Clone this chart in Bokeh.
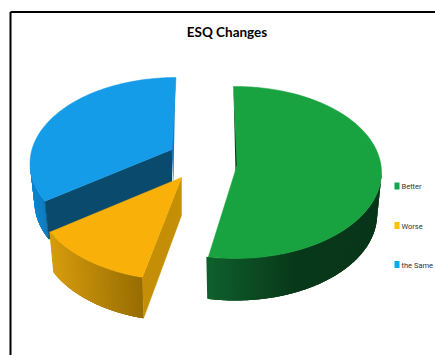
import numpy as np
from bokeh.plotting import figure
from bokeh.embed import file_html
from bokeh.resources import INLINE
from bokeh.core.properties import value

TITLE = "ESQ Changes"
categories = ["Better", "Worse", "the Same"]
shares = [53.2, 13.5, 33.3]

top_colors = ["#18a340", "#f9b009", "#159ce9"]
legend_colors = ["#0fa84e", "#ffc000", "#00aeef"]


def mix(a, b, t):
    ca = [int(a[i:i + 2], 16) for i in (1, 3, 5)]
    cb = [int(b[i:i + 2], 16) for i in (1, 3, 5)]
    return "#%02x%02x%02x" % tuple(round(x + (y - x) * t) for x, y in zip(ca, cb))


p = figure(width=435, height=355, x_range=(0, 435), y_range=(355, 0),
           toolbar_location=None, output_backend="svg", min_border=0,
           outline_line_color=None)
p.axis.visible = False
p.grid.visible = False
p.background_fill_color = "white"
p.border_fill_color = "white"

# chart-area frame, open at the bottom and right
p.line([10, 10], [355, 11.5], line_color="#000000", line_width=2)
p.line([10, 435], [11.5, 11.5], line_color="#000000", line_width=2)

# each slice is pulled away from the pie, so it has its own disc centre and apex
disc = {
    "Better": dict(cx=235, cy=172, ax=236.5, ay=165, depth=42),
    "Worse": dict(cx=181, cy=194, ax=181, ay=177, depth=41),
    "the Same": dict(cx=175.5, cy=163, ax=171.5, ay=149, depth=38),
}
RX, RY = 146, 86
FLOOR_SCALE = 0.97  # the lower rim sits further from the viewer

start = 0.0
spans = {}
for name, share in zip(categories, shares):
    spans[name] = (start, start + share * 3.6)
    start += share * 3.6


def rim(d, a0, a1, n=80, floor=False):
    th = np.radians(np.linspace(a0, a1, n))
    scale = FLOOR_SCALE if floor else 1.0
    drop = d["depth"] if floor else 0.0
    return d["cx"] + RX * scale * np.sin(th), d["cy"] + drop - RY * np.cos(th)


def curved_wall(d, a0, a1, stops):
    """Shade the outer wall with thin facets running through the colour stops."""
    # solid backing so no background shows between facets
    xs, ys = rim(d, a0, a1)
    xf, yf = rim(d, a0, a1, floor=True)
    p.patch(list(xs) + list(xf[::-1]), list(ys) + list(yf[::-1]),
            fill_color=stops[-1][1], line_color=None)
    n = 90
    edges = np.linspace(a0, a1, n + 1)
    pos = [s[0] for s in stops]
    lo, hi = xs.min(), xs.max()
    for i in range(n):
        xs_i, ys_i = rim(d, edges[i], edges[i + 1] + 0.8, 4)
        xf_i, yf_i = rim(d, edges[i], edges[i + 1] + 0.8, 4, floor=True)
        t = (xs_i.mean() - lo) / (hi - lo)
        k = max(min(int(np.searchsorted(pos, t)), len(stops) - 1), 1)
        f = (t - pos[k - 1]) / (pos[k] - pos[k - 1])
        c = mix(stops[k - 1][1], stops[k][1], float(np.clip(f, 0, 1)))
        p.patch(list(xs_i) + list(xf_i[::-1]), list(ys_i) + list(yf_i[::-1]),
                fill_color=c, line_color=None)


def slice_top(d, a0, a1, color):
    xs, ys = rim(d, a0, a1)
    p.patch([d["ax"], *xs], [d["ay"], *ys], fill_color=color, line_color=color, line_width=0.5)


def radial_wall(d, ang, color, apex_depth):
    x, y = rim(d, ang, ang, 1)
    xf, yf = rim(d, ang, ang, 1, floor=True)
    p.patch([d["ax"], x[0], xf[0], d["ax"]],
            [d["ay"], y[0], yf[0], d["ay"] + apex_depth],
            fill_color=color, line_color=color, line_width=0.4)


# the Same (rearmost)
d = disc["the Same"]
a0, a1 = spans["the Same"]
a0 += 3.8
curved_wall(d, a0, 270, [(0, "#1286cf"), (1, "#0f7cbd")])
radial_wall(d, a0, "#0a4a6c", 36)
p.patch([175, 173.5, 173, 171], [77, 149, 183, 149], fill_color="#1a78b4", line_color=None)
slice_top(d, a0, a1, top_colors[2])

# Better
d = disc["Better"]
a0, a1 = spans["Better"]
a0 -= 0.8
a1 -= 0.8
curved_wall(d, 90, a1, [(0, "#0f5f2c"), (0.5, "#08381a"), (1, "#08361a")])
p.patch([233, 237, 235], [86, 163, 172], fill_color="#0a3a1c", line_color=None)
slice_top(d, a0, a1, top_colors[0])

# Worse (frontmost)
d = disc["Worse"]
a0, a1 = spans["Worse"]
a0 += 4.0
a1 += 4.0
curved_wall(d, a0, a1, [(0, "#d69c0d"), (1, "#966c02")])
radial_wall(d, a0, "#c48f06", 38)
slice_top(d, a0, a1, top_colors[1])

p.text([226.5], [31], text=[TITLE], text_font=value("Lato"), text_font_style="bold",
       text_font_size="13.5px", text_color="#000000", text_align="center", text_baseline="middle")

legend_y = [185.5, 225, 264]
p.rect([396.5] * 3, legend_y, width=5, height=7, fill_color=legend_colors, line_color=None)
p.text([401] * 3, [y + 0.5 for y in legend_y], text=categories,
       text_font=value("Roboto"), text_font_size="7.5px",
       text_color="#333333", text_baseline="middle")

open("out.html", "w").write(file_html(p, INLINE))
